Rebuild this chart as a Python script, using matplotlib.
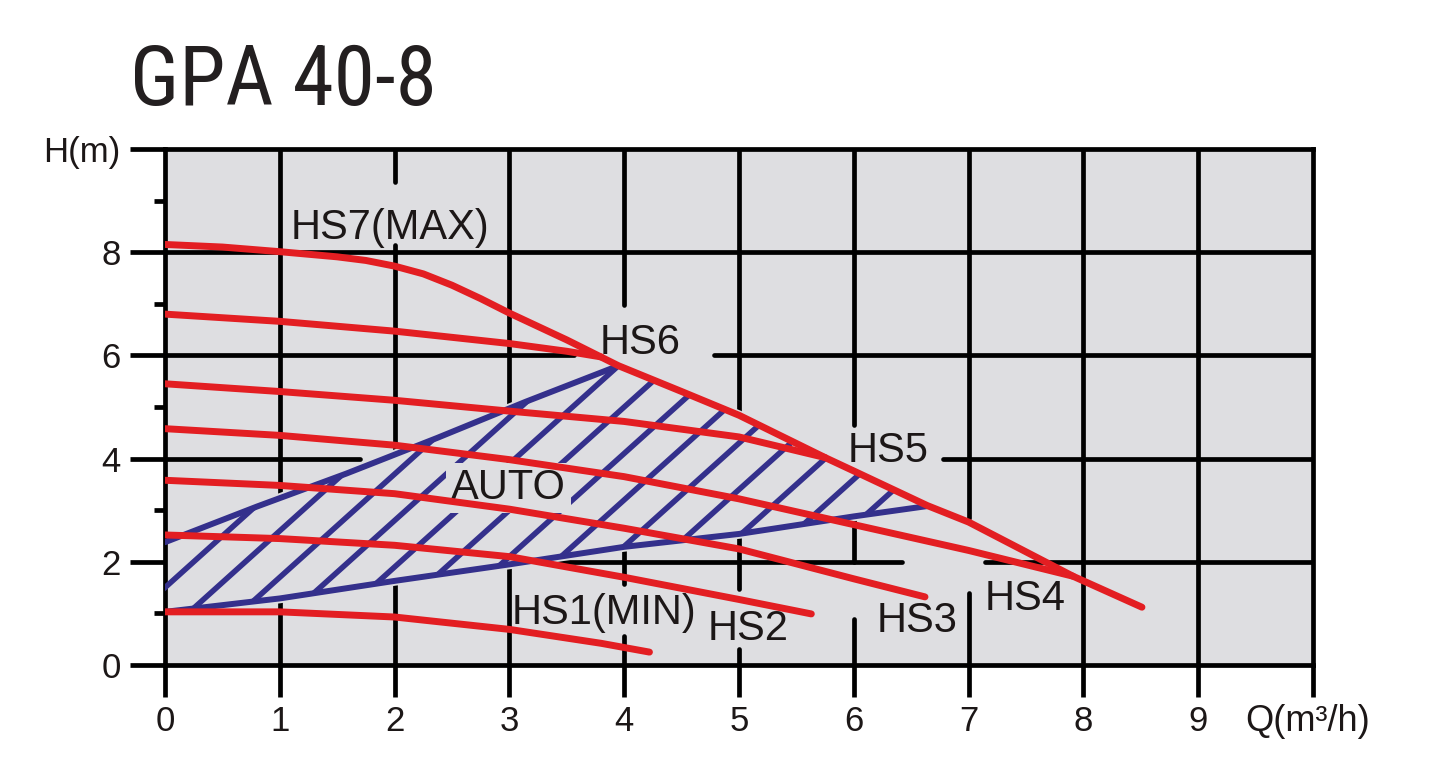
import matplotlib
matplotlib.use("Agg")
import matplotlib.pyplot as plt
from matplotlib import font_manager
from matplotlib.patches import Polygon
import numpy as np

# ------------------------------------------------------------------ data
title = "GPA 40-8"
x_ticks = [0, 1, 2, 3, 4, 5, 6, 7, 8, 9, 10]
x_tick_labels = ["0", "1", "2", "3", "4", "5", "6", "7", "8", "9", ""]
y_ticks = [0, 2, 4, 6, 8, 10]
y_tick_labels = ["0", "2", "4", "6", "8", "H(m)"]
y_minor_ticks = [1, 3, 5, 7, 9]
x_unit_label = "Q(m³/h)"

hs7_q = [0, 0.5, 1, 1.5, 1.75, 2, 2.25, 2.5, 2.75, 3, 3.5, 3.95, 4.5, 5, 5.75, 6, 6.64, 7, 7.91, 8.51]
hs7_h = [8.15, 8.1, 8.01, 7.91, 7.84, 7.73, 7.58, 7.36, 7.1, 6.82, 6.3, 5.8, 5.3, 4.84, 4.02, 3.76, 3.09, 2.77, 1.72, 1.12]
hs6_q = [0, 1, 2, 3, 3.5, 3.8]
hs6_h = [6.8, 6.66, 6.47, 6.23, 6.08, 5.97]
hs5_q = [0, 1, 2, 3, 4, 5, 5.75]
hs5_h = [5.45, 5.3, 5.13, 4.92, 4.72, 4.42, 4.02]
hs4_q = [0, 1, 2, 3, 4, 5, 6, 7, 7.91]
hs4_h = [4.58, 4.45, 4.26, 3.98, 3.65, 3.22, 2.72, 2.22, 1.72]
hs3_q = [0, 1, 2, 3, 4, 5, 6, 6.62]
hs3_h = [3.58, 3.48, 3.32, 3.02, 2.65, 2.25, 1.67, 1.32]
hs2_q = [0, 1, 2, 3, 4, 5, 5.63]
hs2_h = [2.52, 2.45, 2.32, 2.1, 1.7, 1.27, 0.99]
hs1_q = [0, 1, 2, 3, 3.8, 4.22]
hs1_h = [1.03, 1.03, 0.93, 0.69, 0.42, 0.25]

auto_upper_q = [0, 0.8, 1.58, 2.37, 3.14, 3.95]
auto_upper_h = [2.38, 3.07, 3.71, 4.4, 5.1, 5.8]
auto_lower_q = [0, 1, 2, 3, 4, 5, 6, 6.64]
auto_lower_h = [1.03, 1.29, 1.63, 1.95, 2.29, 2.54, 2.88, 3.08]

curve_labels = ["HS7(MAX)", "HS6", "HS5", "HS4", "HS3", "HS2", "HS1(MIN)"]
auto_label = "AUTO"

# ------------------------------------------------------------------ style / layout
BG = "#dedee1"
RED = "#e31e22"
BLUE = "#34308c"
INK = "#1c1717"
LW_GRID = 3.4
LW_RED = 5.0
LW_BLUE = 4.0
LABEL_SIZE = 30
TICK_SIZE = 25

# label anchor (left, baseline) in data coordinates
label_pos = {
    "HS7(MAX)": (1.09, 8.25), "HS6": (3.79, 6.03), "HS5": (5.95, 3.94),
    "HS4": (7.14, 1.07), "HS3": (6.2, 0.64), "HS2": (4.73, 0.49),
    "HS1(MIN)": (3.02, 0.8),
}
auto_pos = (2.49, 3.21)

# grid gaps (where labels sit)
v_gaps = {1: [], 2: [(8.14, 9.36)], 3: [], 4: [(5.7, 6.98), (0.57, 1.57)],
          5: [(0.31, 1.47)], 6: [(2.87, 4.65), (0.89, 1.99)], 7: [(1.39, 2.85)],
          8: [], 9: []}
h_gaps = {2: [(6.42, 7.14)], 4: [(1.7, 6.78)], 6: [(3.56, 4.78)], 8: []}

hatch_slope = 2.0
hatch_offsets = 1.5 - 0.9 * np.arange(13)

# ------------------------------------------------------------------ fonts
plt.rcParams["font.family"] = ["Liberation Sans", "DejaVu Sans"]
names = {f.name for f in font_manager.fontManager.ttflist}
title_family, title_size = "Liberation Sans", 52
for cand in ["Liberation Sans Narrow", "Roboto Condensed", "Open Sans Condensed",
             "Noto Sans Condensed", "DejaVu Sans Condensed"]:
    if cand in names:
        title_family, title_size = cand, 60
        break

# ------------------------------------------------------------------ figure
fig = plt.figure(figsize=(14.3, 7.69), dpi=100)
ax = fig.add_axes([165 / 1430, 1 - 665 / 769, (1313 - 165) / 1430, (665 - 149) / 769])
ax.set_xlim(0, 10)
ax.set_ylim(0, 10)
ax.set_facecolor(BG)
for s in ax.spines.values():
    s.set_linewidth(LW_GRID)
    s.set_color("black")

ax.set_xticks(x_ticks, x_tick_labels)
ax.set_yticks(y_ticks, y_tick_labels)
ax.set_yticks(y_minor_ticks, minor=True)
ax.tick_params(axis="x", which="major", direction="out", length=23, width=LW_GRID,
               pad=6, labelsize=TICK_SIZE, labelcolor=INK)
ax.tick_params(axis="y", which="major", direction="out", length=25, width=LW_GRID,
               pad=7, labelsize=TICK_SIZE, labelcolor=INK)
ax.tick_params(axis="y", which="minor", direction="out", length=8, width=LW_GRID)

# grid with gaps
def visible_segments(gaps, lo=0.0, hi=10.0):
    segs, start = [], lo
    for a, b in sorted(gaps):
        segs.append((start, a))
        start = b
    segs.append((start, hi))
    return [(a, b) for a, b in segs if b > a]

for q, gaps in v_gaps.items():
    for a, b in visible_segments(gaps):
        ax.plot([q, q], [a, b], color="black", lw=LW_GRID, zorder=1,
                solid_capstyle="round")
for h, gaps in h_gaps.items():
    for a, b in visible_segments(gaps):
        ax.plot([a, b], [h, h], color="black", lw=LW_GRID, zorder=1,
                solid_capstyle="round")

# AUTO region
mask = [(q > auto_upper_q[-1]) and (q < auto_lower_q[-1]) for q in hs7_q]
mid_q = [q for q, m in zip(hs7_q, mask) if m]
mid_h = [h for h, m in zip(hs7_h, mask) if m]
poly_q = list(auto_upper_q) + mid_q + list(auto_lower_q[::-1])
poly_h = list(auto_upper_h) + mid_h + list(auto_lower_h[::-1])
poly = Polygon(np.column_stack([poly_q, poly_h]), closed=True, facecolor=BG,
               edgecolor=BG, lw=7, zorder=1.5)
ax.add_patch(poly)

for c in hatch_offsets:
    qq = np.array([-1.0, 9.0])
    ln, = ax.plot(qq, c + hatch_slope * qq, color=BLUE, lw=LW_BLUE, zorder=3)
    ln.set_clip_path(poly)

ax.plot(auto_upper_q, auto_upper_h, color=BLUE, lw=LW_BLUE + 0.3, zorder=3.2,
        solid_joinstyle="round", solid_capstyle="round")
ax.plot(auto_lower_q, auto_lower_h, color=BLUE, lw=LW_BLUE + 0.3, zorder=3.2,
        solid_joinstyle="round", solid_capstyle="round")

ax.text(auto_pos[0], auto_pos[1], auto_label, fontsize=LABEL_SIZE, color=INK, ha="left",
        va="baseline", zorder=4,
        bbox=dict(boxstyle="square,pad=0.12", fc=BG, ec="none"))

# pump curves
curves = [(hs7_q, hs7_h), (hs6_q, hs6_h), (hs5_q, hs5_h), (hs4_q, hs4_h),
          (hs3_q, hs3_h), (hs2_q, hs2_h), (hs1_q, hs1_h)]
for (q, h), name in zip(curves, curve_labels):
    ax.plot(q, h, color=RED, lw=LW_RED, zorder=5, solid_capstyle="round",
            solid_joinstyle="round")
    lx, ly = label_pos[name]
    ax.text(lx, ly, name, fontsize=LABEL_SIZE, color=INK, ha="left", va="baseline",
            zorder=6)

ax.text(9.41, -1.1, x_unit_label, fontsize=26, color=INK, ha="left", va="center",
        clip_on=False)

fig.text(130 / 1430, 1 - 105 / 769, title, fontsize=title_size, family=title_family,
         color="#231f20", ha="left", va="baseline")

fig.savefig("out.png", dpi=100, facecolor="white")
